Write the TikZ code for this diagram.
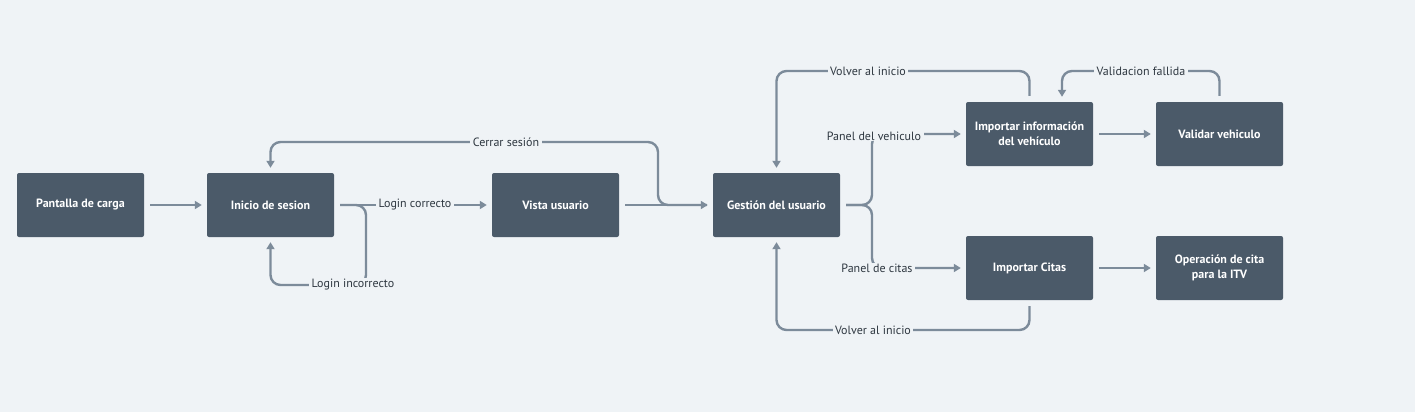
\documentclass[tikz,border=0pt]{standalone}
\usepackage{fontspec}
\setmainfont{PT Sans}
\usetikzlibrary{arrows.meta,calc}
\definecolor{bgc}{HTML}{EFF3F6}
\definecolor{boxc}{HTML}{4B5A69}
\definecolor{linec}{HTML}{7C8B9A}
\definecolor{txtc}{HTML}{2E3740}
\begin{document}
\begin{tikzpicture}[x=1pt,y=-1pt,
    screen/.style={rectangle,fill=boxc,rounded corners=2pt,minimum width=127pt,minimum height=64pt,
      inner sep=0pt,text=white,align=center,font=\fontsize{12}{15}\selectfont\bfseries},
    conn/.style={draw=linec,line width=2.4pt,rounded corners=10pt,shorten <=6pt,shorten >=5pt},
    tip/.style={-{Triangle[length=7pt,width=8pt]}},
    lbl/.style={fill=bgc,inner xsep=2.5pt,inner ysep=1pt,text=txtc,font=\fontsize{12}{14}\selectfont}]
  \fill[bgc] (0,0) rectangle (1415,412);
  \useasboundingbox (0,0) rectangle (1415,412);
  % pantallas
  \node[screen] (carga) at (80.5,205) {Pantalla de carga};
  \node[screen] (inicio) at (270.5,205) {Inicio de sesion};
  \node[screen] (vista) at (555.5,205) {Vista usuario};
  \node[screen] (gestion) at (776.5,205) {Gestión del usuario};
  \node[screen] (impveh) at (1029.5,134) {Importar información\\del vehículo};
  \node[screen] (validar) at (1219.5,134) {Validar vehiculo};
  \node[screen] (impcitas) at (1029.5,268) {Importar Citas};
  \node[screen] (operacion) at (1219.5,268) {Operación de cita\\para la ITV};
  % flujo principal
  \draw[conn,tip] (carga) -- (inicio);
  \draw[conn,tip] (inicio) -- (vista);
  \draw[conn,tip] (inicio.east) -| (366,285) -| (inicio.south);
  \draw[conn,tip] (vista) -- (gestion);
  \draw[conn,tip] (gestion.west) -| (658,142) -| (inicio.north);
  \draw[conn,tip] (gestion.east) -| (872,134) -- (impveh.west);
  \draw[conn,tip] (gestion.east) -| (872,268) -- (impcitas.west);
  \draw[conn,tip] (impveh.north) |- (776.5,71) -- (gestion.north);
  \draw[conn,tip] (impcitas.south) |- (776.5,330) -- (gestion.south);
  \draw[conn,tip] (validar.north) |- (1062,71) -- ($(impveh.north)+(32.5,0)$);
  \draw[conn,tip] (impveh) -- (validar);
  \draw[conn,tip] (impcitas) -- (operacion);
  % etiquetas
  \node[lbl] (lcorrecto) at (415,205) {Login correcto};
  \node[lbl] (lincorrecto) at (353,285) {Login incorrecto};
  \node[lbl] (lcerrar) at (506,142) {Cerrar sesión};
  \node[lbl] (lpanelveh) at (874,136) {Panel del vehiculo};
  \node[lbl] (lpanelcit) at (877,268) {Panel de citas};
  \node[lbl] (lvolver1) at (868,71) {Volver al inicio};
  \node[lbl] (lvolver2) at (873,330) {Volver al inicio};
  \node[lbl] (lfallida) at (1141,71) {Validacion fallida};
\end{tikzpicture}
\end{document}
